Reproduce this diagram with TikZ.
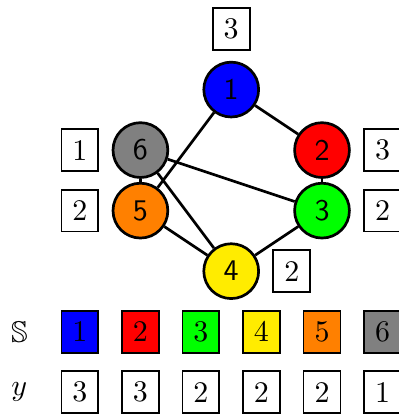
\documentclass[tikz,border=0pt]{standalone}
\usepackage{amssymb}
\definecolor{vyellow}{RGB}{255,236,0}

\begin{document}
\begin{tikzpicture}[x=0.71cm,y=0.71cm,
  vertex/.style={circle,draw,line width=0.9pt,minimum size=18.3pt,inner sep=0pt,font=\sffamily},
  lbl/.style={rectangle,draw,semithick,minimum width=12.3pt,minimum height=14pt,inner sep=0pt},
  edge/.style={line width=0.9pt}]
  \useasboundingbox (-1.32,-0.36) rectangle (5.26,6.48);

  \node[vertex,fill=blue]    (v1) at (2.5,5) {1};
  \node[vertex,fill=red]     (v2) at (4,4)   {2};
  \node[vertex,fill=green]   (v3) at (4,3)   {3};
  \node[vertex,fill=vyellow] (v4) at (2.5,2) {4};
  \node[vertex,fill=orange]  (v5) at (1,3)   {5};
  \node[vertex,fill=gray]    (v6) at (1,4)   {6};

  \foreach \a/\b in {1/2,1/5,2/3,3/4,3/6,4/5,4/6,5/6}
    \draw[edge] (v\a) -- (v\b);

  \node[lbl] (y1) at (2.5,6) {3};
  \node[lbl] (y2) at (5,4)   {3};
  \node[lbl] (y3) at (5,3)   {2};
  \node[lbl] (y4) at (3.5,2) {2};
  \node[lbl] (y5) at (0,3)   {2};
  \node[lbl] (y6) at (0,4)   {1};

  \node (setS) at (-1,1) {$\mathbb{S}$};
  \node (sety) at (-1,0) {$y$};
  \foreach \c/\i/\v in {blue/1/3,red/2/3,green/3/2,vyellow/4/2,orange/5/2,gray/6/1} {
    \node[lbl,fill=\c] (s\i) at (\i-1,1) {\i};
    \node[lbl] (r\i) at (\i-1,0) {\v};
  }
\end{tikzpicture}
\end{document}
